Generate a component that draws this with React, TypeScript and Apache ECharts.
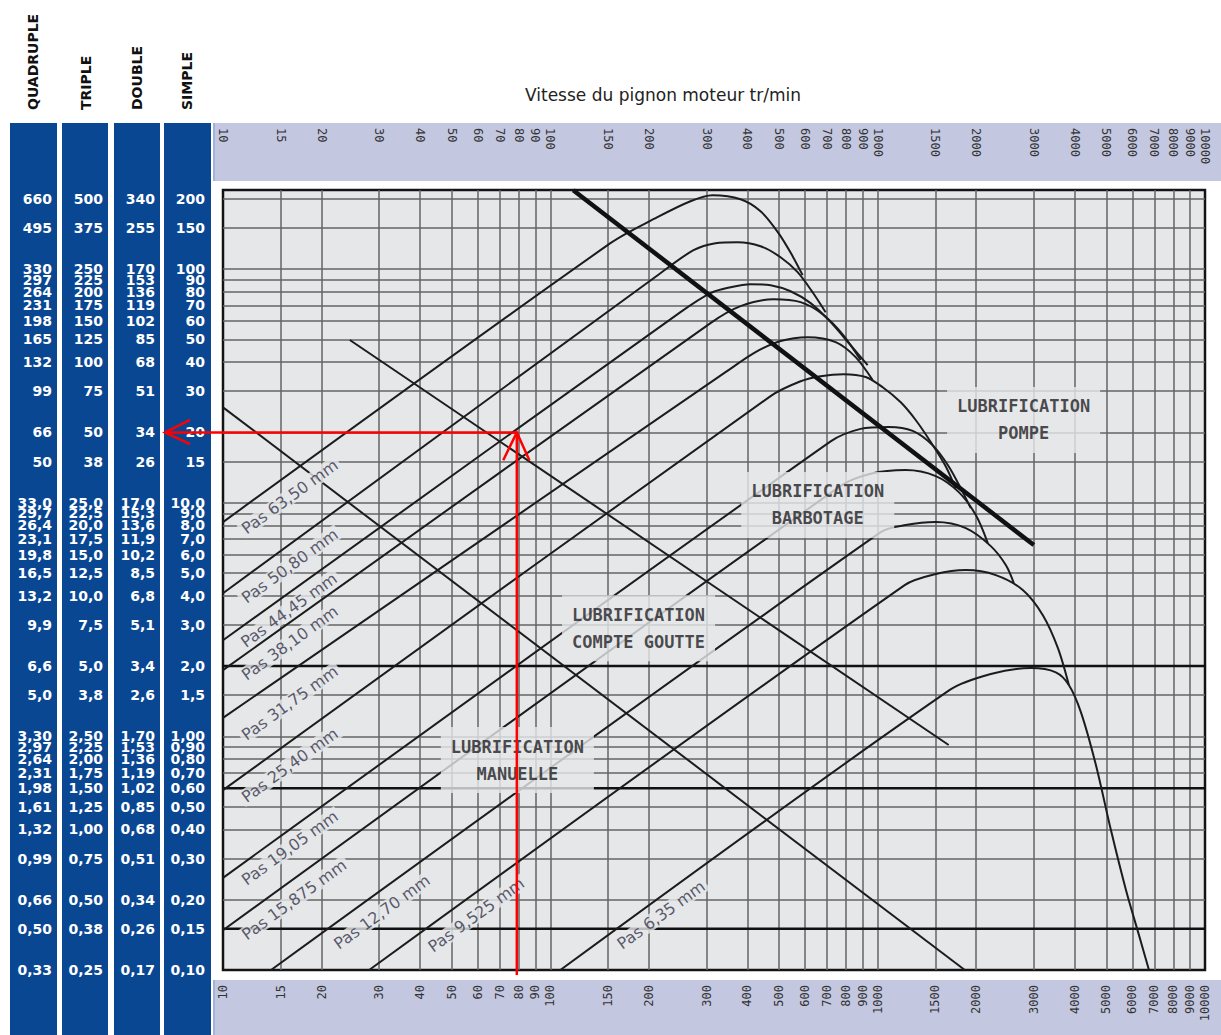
import React, { useEffect, useRef } from "react";
import * as echarts from "echarts";

// ---------- axis ticks ----------
const speedTicks = [10, 15, 20, 30, 40, 50, 60, 70, 80, 90, 100, 150, 200, 300, 400, 500, 600, 700, 800, 900, 1000, 1500, 2000, 3000, 4000, 5000, 6000, 7000, 8000, 9000, 10000];
const powerTicks = [200, 150, 100, 90, 80, 70, 60, 50, 40, 30, 20, 15, 10, 9, 8, 7, 6, 5, 4, 3, 2, 1.5, 1, 0.9, 0.8, 0.7, 0.6, 0.5, 0.4, 0.3, 0.2, 0.15, 0.1];
const quadrupleLabels = ["660", "495", "330", "297", "264", "231", "198", "165", "132", "99", "66", "50", "33,0", "29,7", "26,4", "23,1", "19,8", "16,5", "13,2", "9,9", "6,6", "5,0", "3,30", "2,97", "2,64", "2,31", "1,98", "1,61", "1,32", "0,99", "0,66", "0,50", "0,33"];
const tripleLabels = ["500", "375", "250", "225", "200", "175", "150", "125", "100", "75", "50", "38", "25,0", "22,5", "20,0", "17,5", "15,0", "12,5", "10,0", "7,5", "5,0", "3,8", "2,50", "2,25", "2,00", "1,75", "1,50", "1,25", "1,00", "0,75", "0,50", "0,38", "0,25"];
const doubleLabels = ["340", "255", "170", "153", "136", "119", "102", "85", "68", "51", "34", "26", "17,0", "15,3", "13,6", "11,9", "10,2", "8,5", "6,8", "5,1", "3,4", "2,6", "1,70", "1,53", "1,36", "1,19", "1,02", "0,85", "0,68", "0,51", "0,34", "0,26", "0,17"];
const simpleLabels = ["200", "150", "100", "90", "80", "70", "60", "50", "40", "30", "20", "15", "10,0", "9,0", "8,0", "7,0", "6,0", "5,0", "4,0", "3,0", "2,0", "1,5", "1,00", "0,90", "0,80", "0,70", "0,60", "0,50", "0,40", "0,30", "0,20", "0,15", "0,10"];
const columnTitles = ["QUADRUPLE", "TRIPLE", "DOUBLE", "SIMPLE"];

// ---------- chain pitch curves [rpm, kW] ----------
const pitchNames = ["Pas 63,50 mm", "Pas 50,80 mm", "Pas 44,45 mm", "Pas 38,10 mm", "Pas 31,75 mm", "Pas 25,40 mm", "Pas 19,05 mm", "Pas 15,875 mm", "Pas 12,70 mm", "Pas 9,525 mm", "Pas 6,35 mm"];
const pitch6350 = [[10, 8.26], [152.6, 129.1], [212.4, 166.8], [268.0, 195.2], [312.9, 207.1], [381.1, 199.1], [438.7, 176.9], [497.9, 142.5], [549.7, 113.6], [589.8, 94.2]];
const pitch5080 = [[10, 4.1], [216.9, 96.0], [273.8, 120.5], [319.6, 129.1], [373.2, 130.4], [438.7, 125.3], [505.0, 112.4], [569.4, 97.0], [632.7, 79.6], [693.4, 65.4]];
const pitch4445 = [[10, 2.58], [249.8, 65.4], [308.5, 78.9], [355.2, 83.6], [408.9, 86.2], [470.8, 85.3], [541.9, 80.4], [623.9, 71.5], [718.3, 59.3], [826.8, 47.2], [932.0, 38.8]];
const pitch3810 = [[10, 1.92], [308.5, 58.7], [381.1, 69.4], [480.8, 74.3], [581.5, 72.2], [678.9, 64.1], [781.6, 52.6], [887.2, 40.8]];
const pitch3175 = [[10, 1.2], [342.9, 36.2], [423.6, 44.1], [505.0, 49.2], [610.8, 51.1], [744.0, 48.7], [856.4, 42.0], [965.4, 33.5]];
const pitch2540 = [[10, 0.589], [470.8, 28.6], [581.5, 33.1], [669.5, 34.8], [787.1, 35.5], [919.0, 34.5], [1035.9, 31.2], [1176.2, 26.9], [1306.6, 22.6], [1452.5, 18.2], [1614.8, 14.3], [1732.4, 11.5]];
const pitch1905 = [[10, 0.248], [718.3, 18.3], [887.2, 20.7], [1080.5, 21.1], [1279.4, 20.3], [1473.2, 17.6], [1648.9, 14.3], [1819.5, 11.1], [1925.0, 9.48]];
const pitch15875 = [[10, 0.148], [770.8, 11.8], [952.0, 13.3], [1217.8, 13.8], [1504.9, 13.0], [1769.3, 11.1], [1994.6, 8.85], [2170.0, 6.72]];
const pitch1270 = [[14.02, 0.1], [1021.4, 7.48], [1217.8, 8.02], [1504.9, 8.26], [1858.9, 7.78], [2216.4, 6.52], [2463.1, 5.41], [2605.9, 4.53]];
const pitch9525 = [[27.96, 0.1], [1209.3, 4.44], [1504.9, 4.95], [1858.9, 5.15], [2295.9, 4.9], [2775.6, 4.23], [3196.2, 3.3], [3551.9, 2.39], [3837.9, 1.66]];
const pitch635 = [[107.3, 0.1], [1660.8, 1.58], [2216.4, 1.85], [2937.7, 1.96], [3502.0, 1.88], [3837.9, 1.66], [4176.6, 1.27], [4642.2, 0.754], [5159.4, 0.397], [5734.7, 0.22], [6284.6, 0.141], [6742.2, 0.1]];
const pitchCurves = [pitch6350, pitch5080, pitch4445, pitch3810, pitch3175, pitch2540, pitch1905, pitch15875, pitch1270, pitch9525, pitch635];
// label anchor [rpm, kW]
const pitchLabelPos = [[16.0, 10.6], [16.0, 5.36], [15.9, 3.47], [16.0, 2.51], [16.0, 1.39], [16.0, 0.753], [16.0, 0.333], [16.5, 0.2], [30.6, 0.177], [59.4, 0.172], [218, 0.172]];

// ---------- lubrication zone boundaries ----------
const boundaryA = [[10, 25.6], [1846, 0.1]];
const boundaryB = [[24.4, 49.7], [1648, 0.918]];
const boundaryPump = [[117.5, 217.6], [3000, 6.59]];
const levelLines = [2.0, 0.6, 0.15];

const zoneNames = ["LUBRIFICATION\nPOMPE", "LUBRIFICATION\nBARBOTAGE", "LUBRIFICATION\nCOMPTE GOUTTE", "LUBRIFICATION\nMANUELLE"];
const zonePos = [[2792, 22.6], [656, 9.78], [186, 2.9], [79.3, 0.792]];

// ---------- example reading (red) ----------
const readHorizontal = [[6.65, 20.0], [79, 20.0]];
const readVertical = [[79, 0.0952], [79, 20.0]];
const arrowLeft = [[7.93, 22.6], [6.65, 20.0], [7.93, 17.8]];
const arrowUp = [[71.8, 15.2], [79, 20.0], [86.3, 15.2]];

const X_MIN = 10;
const X_MAX = 10000;
const Y_MIN = 0.1;
const Y_MAX = 218;

export default function App() {
  const ref = useRef<HTMLDivElement>(null);
  useEffect(() => {
    document.body.style.margin = "0";
    const chart = echarts.init(ref.current!, null, { renderer: "svg" });

    const colLabelSets = [quadrupleLabels, tripleLabels, doubleLabels, simpleLabels];
    const colOffsets = [163, 112, 60, 10];
    const fmtFor = (labels: string[]) => (v: number) => {
      let best = 0;
      let bd = Infinity;
      powerTicks.forEach((p, i) => {
        const d = Math.abs(Math.log(p) - Math.log(v));
        if (d < bd) { bd = d; best = i; }
      });
      return labels[best];
    };
    const yAxes = colLabelSets.map((labels, i) => ({
      type: "log",
      min: Y_MIN,
      max: Y_MAX,
      position: "left",
      offset: colOffsets[i],
      axisLine: { show: false },
      axisTick: { show: false },
      splitLine: { show: false },
      axisLabel: {
        customValues: powerTicks,
        formatter: fmtFor(labels),
        color: "#ffffff",
        fontFamily: "DejaVu Sans",
        fontWeight: "bold",
        fontSize: 14,
        margin: 8,
        align: "right",
      },
    }));

    const xLabelStyle = {
      customValues: speedTicks,
      rotate: 90,
      verticalAlign: "middle",
      fontFamily: "DejaVu Sans Mono",
      fontSize: 12,
      color: "#333333",
      formatter: (v: number) => String(Math.round(v)),
    };
    const xAxes = [
      {
        type: "log", min: X_MIN, max: X_MAX, position: "bottom",
        axisLine: { show: false }, axisTick: { show: false }, splitLine: { show: false },
        axisLabel: { ...xLabelStyle, align: "right", margin: 15 },
      },
      {
        type: "log", min: X_MIN, max: X_MAX, position: "top",
        axisLine: { show: false }, axisTick: { show: false }, splitLine: { show: false },
        axisLabel: { ...xLabelStyle, align: "left", margin: 62 },
      },
    ];

    const gridData = [
      ...speedTicks.slice(1, -1).map((v) => ({ coords: [[v, Y_MIN], [v, Y_MAX]] })),
      ...powerTicks.slice(0, -1).map((p) => ({ coords: [[X_MIN, p], [X_MAX, p]] })),
    ];

    const lineSeries = (data: number[][], width: number, color = "#1c1c1c", z = 3, smooth: any = false) => ({
      type: "line",
      data,
      showSymbol: false,
      symbol: "none",
      smooth,
      lineStyle: { width, color },
      z,
      silent: true,
    });

    const series: any[] = [
      {
        type: "lines",
        coordinateSystem: "cartesian2d",
        data: gridData,
        lineStyle: { color: "#656565", width: 1.5, opacity: 1 },
        z: 1,
        silent: true,
      },
      ...pitchCurves.map((c) => lineSeries(c, 2, "#1c1c1c", 3, 0.3)),
      lineSeries(boundaryA, 2),
      lineSeries(boundaryB, 2),
      lineSeries(boundaryPump, 4.5, "#111111", 4),
      ...levelLines.map((p) => lineSeries([[X_MIN, p], [X_MAX, p]], 2.5, "#111111", 2)),
      {
        type: "scatter",
        data: pitchLabelPos.map((p, i) => ({ value: p, name: pitchNames[i] })),
        symbolSize: 0,
        z: 10,
        silent: true,
        label: {
          show: true,
          position: "inside",
          formatter: "{b}",
          rotate: 36,
          fontFamily: "DejaVu Sans",
          fontSize: 16,
          color: "#34344a",
          backgroundColor: "#e6e7e9",
          padding: [0, 3],
        },
      },
      {
        type: "scatter",
        data: zonePos.map((p, i) => ({ value: p, name: zoneNames[i] })),
        symbolSize: 0,
        z: 10,
        silent: true,
        label: {
          show: true,
          position: "inside",
          formatter: "{b}",
          fontFamily: "DejaVu Sans Mono",
          fontWeight: "bold",
          fontSize: 17,
          lineHeight: 27,
          align: "center",
          color: "#1e1e24",
          backgroundColor: "#e6e7e9",
          padding: [6, 10],
        },
      },
    ];

    const colX = [10, 62, 114, 164];
    const colW = [47, 46, 46, 47];
    const headerX = [33, 86, 137, 187];

    const baseGraphics: any[] = [
      ...colX.map((x, i) => ({
        type: "rect", id: "col" + i, z: -10, silent: true,
        shape: { x, y: 123, width: colW[i], height: 912 },
        style: { fill: "#0a4793" },
      })),
      { type: "rect", id: "bandTop", z: -10, silent: true, shape: { x: 213, y: 123, width: 1008, height: 58 }, style: { fill: "#c3c7e0" } },
      { type: "rect", id: "bandBot", z: -10, silent: true, shape: { x: 213, y: 980, width: 1008, height: 55 }, style: { fill: "#c3c7e0" } },
      { type: "rect", id: "edgeTop", z: -10, silent: true, shape: { x: 213, y: 123, width: 2, height: 58 }, style: { fill: "#9fb4dc" } },
      { type: "rect", id: "edgeBot", z: -10, silent: true, shape: { x: 213, y: 980, width: 2, height: 55 }, style: { fill: "#9fb4dc" } },
      {
        type: "text", id: "title", x: 663, y: 95, silent: true,
        style: { text: "Vitesse du pignon moteur tr/min", fontFamily: "DejaVu Sans", fontSize: 17, fill: "#222222", align: "center", verticalAlign: "middle" },
      },
      ...columnTitles.map((t, i) => ({
        type: "text", id: "head" + i, x: headerX[i], y: 110, rotation: Math.PI / 2, silent: true,
        style: { text: t, fontFamily: "DejaVu Sans", fontWeight: "bold", fontSize: 14, fill: "#111111", align: "left", verticalAlign: "middle" },
      })),
    ];

    chart.setOption({
      animation: false,
      backgroundColor: "#ffffff",
      grid: {
        left: 223, top: 190, width: 982, height: 780,
        show: true, backgroundColor: "#e6e7e9", borderColor: "#141414", borderWidth: 2.5,
        containLabel: false,
      },
      xAxis: xAxes,
      yAxis: yAxes,
      graphic: baseGraphics,
      series,
    });

    // red reading path: placed through the axes' scales (may extend outside the plot)
    const toPx = (p: number[]) => chart.convertToPixel({ xAxisIndex: 0, yAxisIndex: 0 }, p) as number[];
    const redPaths = [readHorizontal, readVertical, arrowLeft, arrowUp];
    const redGraphics = redPaths.map((path, i) => ({
      type: "polyline",
      id: "red" + i,
      z: 100,
      silent: true,
      shape: { points: path.map(toPx) },
      style: { stroke: "#ff0000", lineWidth: 2.5, fill: null },
    }));
    chart.setOption({ graphic: [...baseGraphics, ...redGraphics] }, { replaceMerge: ["graphic"] });

    return () => chart.dispose();
  }, []);
  return <div ref={ref} style={{ width: 1221, height: 1035 }} />;
}
